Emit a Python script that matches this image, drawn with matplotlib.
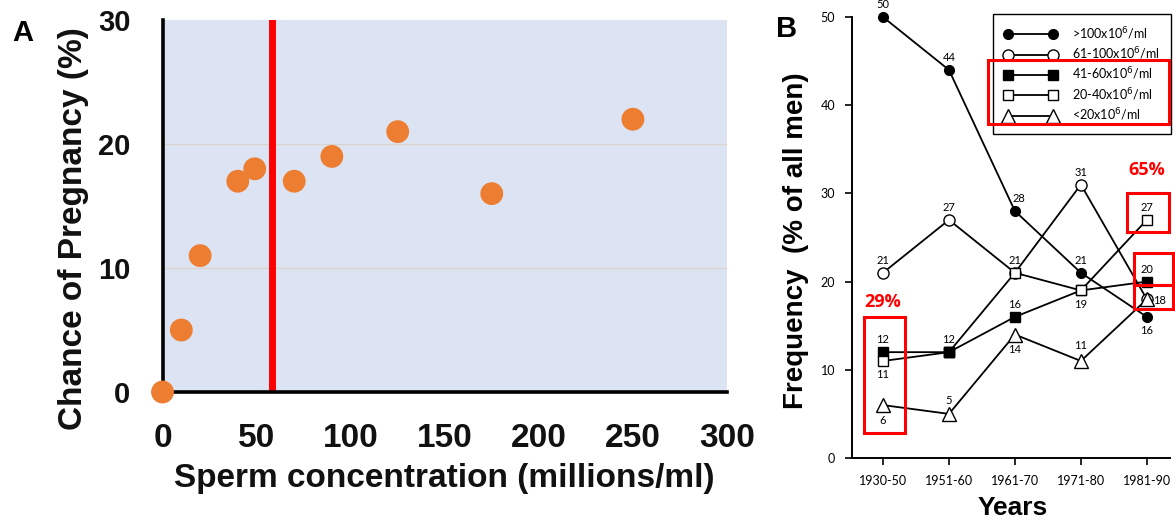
import matplotlib
matplotlib.use("Agg")
import matplotlib.pyplot as plt
from matplotlib.patches import Rectangle

# panel A data
conc = [0, 10, 20, 40, 49, 70, 90, 125, 175, 250]
pregnancy = [0, 5, 11, 17, 18, 17, 19, 21, 16, 22]
cutoff = 58
a_xticks = [0, 50, 100, 150, 200, 250, 300]
a_yticks = [0, 10, 20, 30]

# panel B data
periods = ["1930-50", "1951-60", "1961-70", "1971-80", "1981-90"]
gt100 = [50, 44, 28, 21, 16]
c61_100 = [21, 27, 21, 31, 18]
c41_60 = [12, 12, 16, 19, 20]
c20_40 = [11, 12, 21, 19, 27]
lt20 = [6, 5, 14, 11, 18]
b_yticks = [0, 10, 20, 30, 40, 50]
legend_labels = [">100x10$^6$/ml", "61-100x10$^6$/ml", "41-60x10$^6$/ml",
                 "20-40x10$^6$/ml", "<20x10$^6$/ml"]

fig = plt.figure(figsize=(11.75, 5.22), dpi=100)

# ---------------- panel A ----------------
axA = fig.add_axes([0.1383, 0.249, 0.4804, 0.7126])
axA.set_facecolor("#DCE3F2")
axA.set_xlim(0, 300)
axA.set_ylim(0, 30)
for y in [10, 20]:
    axA.axhline(y, color="#DAD5CC", lw=1.0, zorder=1)
axA.axvline(cutoff, color="#FF0000", lw=5, zorder=2)
axA.scatter(conc, pregnancy, s=270, color="#ED7D31", zorder=4, clip_on=False,
            edgecolors="none")
for s in ["top", "right"]:
    axA.spines[s].set_visible(False)
for s in ["left", "bottom"]:
    axA.spines[s].set_linewidth(2.6)
    axA.spines[s].set_color("black")
    axA.spines[s].set_zorder(3)
axA.set_xticks(a_xticks)
axA.set_yticks(a_yticks)
axA.tick_params(axis="x", length=0, pad=22, labelsize=24)
axA.tick_params(axis="y", length=0, pad=23, labelsize=21)
for lab in axA.get_xticklabels() + axA.get_yticklabels():
    lab.set_fontweight("bold")
    lab.set_family("Liberation Sans")
    lab.set_color("#111111")
axA.set_xlabel("Sperm concentration (millions/ml)", fontsize=24, fontweight="bold",
               family="Liberation Sans", color="#111111")
axA.set_ylabel("Chance of Pregnancy (%)", fontsize=24, fontweight="bold",
               family="Liberation Sans", color="#111111")
axA.xaxis.set_label_coords(0.50, -0.19)
axA.yaxis.set_label_coords(-0.131, 0.438)
fig.text(0.0196, 0.937, "A", fontsize=21, fontweight="bold", family="Liberation Sans",
         ha="center", va="center")

# ---------------- panel B ----------------
axB = fig.add_axes([0.7251, 0.1226, 0.2706, 0.8448])
xs = list(range(len(periods)))
axB.set_xlim(-0.47, 4.35)
axB.set_ylim(0, 50)

series = [
    (gt100, dict(marker="o", mfc="black", mec="black", ms=7)),
    (c61_100, dict(marker="o", mfc="white", mec="black", ms=8)),
    (c41_60, dict(marker="s", mfc="black", mec="black", ms=6.5)),
    (c20_40, dict(marker="s", mfc="white", mec="black", ms=7)),
    (lt20, dict(marker="^", mfc="white", mec="black", ms=10)),
]
handles = []
for i, (vals, st) in enumerate(series):
    h, = axB.plot(xs, vals, color="black", lw=1.3, mew=1.0, clip_on=False,
                  zorder=3 + i, **st)
    handles.append(h)
# filled square sits on top at 1951-60
axB.plot(xs[1], c41_60[1], color="black", clip_on=False, zorder=9,
         **series[2][1])

offsets = [
    [(0, 9), (0, 9), (3, 9), (0, 9), (0, -10)],
    [(0, 9), (0, 9), None, (0, 9), None],
    [(0, 9), (0, 9), (0, 9), None, (0, 9)],
    [(0, -10), None, (0, 9), (0, -10), (0, 9)],
    [(0, -11), (0, 10), (0, -11), (0, 11), (9, -1)],
]
for (vals, st), offs in zip(series, offsets):
    for x, v, off in zip(xs, vals, offs):
        if off is None:
            continue
        axB.annotate(str(v), (x, v), xytext=off, textcoords="offset points",
                     ha="center", va="center", fontsize=8, family="Lato",
                     zorder=10, annotation_clip=False)

for s in ["top", "right"]:
    axB.spines[s].set_visible(False)
for s in ["left", "bottom"]:
    axB.spines[s].set_linewidth(1.4)
axB.set_xticks(xs)
axB.set_xticklabels(periods)
axB.set_yticks(b_yticks)
axB.tick_params(direction="out", length=5, width=1.2, labelsize=9)
axB.tick_params(axis="x", pad=7)
axB.tick_params(axis="y", pad=7)
for lab in axB.get_xticklabels() + axB.get_yticklabels():
    lab.set_family("Lato")
axB.set_xlabel("Years", fontsize=19, fontweight="bold", family="Liberation Sans")
axB.set_ylabel("Frequency  (% of all men)", fontsize=20, fontweight="bold",
               family="Liberation Sans")
axB.xaxis.set_label_coords(0.506, -0.086)
axB.yaxis.set_label_coords(-0.135, 0.492)

leg = axB.legend(handles, legend_labels, loc="upper right",
                 bbox_to_anchor=(1.003, 1.007), borderaxespad=0, numpoints=2,
                 handlelength=4.2, labelspacing=0.3, fancybox=False,
                 edgecolor="black", framealpha=1, borderpad=0.9, handletextpad=1.2,
                 prop={"family": "Lato", "size": 9})
leg.get_frame().set_linewidth(1.0)
leg.set_zorder(12)

red = "#FF0000"
axB.add_patch(Rectangle((0.428, 0.757), 0.569, 0.145, transform=axB.transAxes,
                        fill=False, ec=red, lw=2.2, clip_on=False, zorder=13))
axB.add_patch(Rectangle((-0.29, 2.8), 0.62, 13.2, fill=False, ec=red, lw=2.2,
                        clip_on=False, zorder=13))
axB.add_patch(Rectangle((3.70, 25.6), 0.63, 4.4, fill=False, ec=red, lw=2.2,
                        clip_on=False, zorder=13))
axB.add_patch(Rectangle((3.81, 19.6), 0.58, 3.6, fill=False, ec=red, lw=2.2,
                        clip_on=False, zorder=13))
axB.add_patch(Rectangle((3.81, 16.9), 0.58, 2.7, fill=False, ec=red, lw=2.2,
                        clip_on=False, zorder=13))
axB.text(0.0, 17.7, "29%", color=red, fontsize=13, fontweight="bold",
         family="Open Sans", ha="center", va="center", zorder=13)
axB.text(4.0, 32.7, "65%", color=red, fontsize=13, fontweight="bold",
         family="Open Sans", ha="center", va="center", zorder=13)
fig.text(0.669, 0.944, "B", fontsize=21, fontweight="bold", family="Liberation Sans",
         ha="center", va="center")

fig.savefig("out.png", dpi=100)
